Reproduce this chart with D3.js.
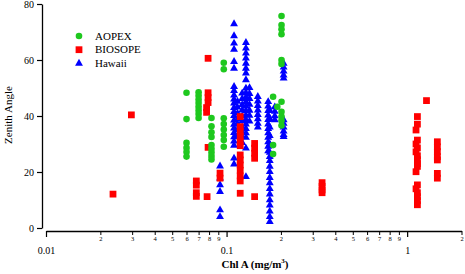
<!DOCTYPE html>
<html>
<head>
<meta charset="utf-8">
<script src="https://d3js.org/d3.v7.min.js"></script>
<style>
  body { margin: 0; background: #fff; }
  text { font-family: "Liberation Serif", "Times New Roman", serif; }
</style>
</head>
<body>
<script>
"use strict";

// each entry: [Chl A (mg/m3), zenith angles read at that Chl value]
var aopex = [
  [0.060, [48.3, 38.9, 30.4, 28.6, 27.1, 25.5]],
  [0.070, [48.5, 47.2, 45.9, 44.6, 43.3, 42.0, 40.7, 39.3]],
  [0.0825, [39.3, 36.3, 34.2, 32.5, 29.6, 28.3, 27.0, 25.7, 24.5]],
  [0.0965, [59.0, 56.7, 39.2, 37.1, 35.2, 33.2, 31.4, 29.0]],
  [0.181, [46.9, 29.6, 26.4]],
  [0.191, [43.3]],
  [0.2015, [75.7, 72.5, 71.0, 69.2, 60.0, 58.6, 45.1, 41.5, 39.8, 38.4, 36.6]]
];

var biosope = [
  [0.0235, [12.1]],
  [0.0297, [40.4]],
  [0.068, [16.8, 15.3, 12.6, 11.3]],
  [0.078, [11.2]],
  [0.079, [60.6, 48.3, 46.6, 44.8, 28.8]],
  [0.0775, [43.0, 41.3]],
  [0.092, [19.6, 17.8]],
  [0.119, [39.8, 36.2, 34.4, 32.6, 30.8, 29.4, 26.1, 24.3, 22.5, 20.6, 18.6, 16.8, 12.4]],
  [0.143, [30.2, 28.5, 26.7, 24.9, 11.2]],
  [0.338, [16.2, 14.9, 13.6, 12.6]],
  [1.28, [45.5]],
  [1.14, [39.8, 37.1, 31.4, 28.6, 25.8, 24.4, 23.0, 22.0, 15.4, 12.6, 11.2, 9.8, 8.3]],
  [1.12, [35.0, 30.0, 27.2, 20.1, 14.0]],
  [1.47, [30.8, 29.0, 27.3, 25.5, 24.3, 19.5, 17.8]]
];

var hawaii = [
  [0.092, [22.1, 17.8, 15.4, 13.0, 6.4, 4.0]],
  [0.110, [72.9, 68.6, 66.0, 63.8, 59.4, 57.0, 50.5, 49.0, 47.4, 46.0, 44.6, 43.0, 41.5, 40.1, 38.5, 37.0, 35.6, 34.0, 32.5, 31.0, 29.5, 24.9, 22.8]],
  [0.115, [45.2, 43.1, 41.0, 38.9, 37.2, 35.1, 33.0]],
  [0.122, [48.1, 46.2, 44.0, 42.1, 40.0, 38.2, 36.0, 34.1, 32.6, 30.5]],
  [0.128, [66.2, 64.2, 62.4, 60.6, 58.8, 57.0, 55.3, 52.9, 49.9, 48.3, 46.7, 45.1, 43.5, 41.9, 40.3, 38.7, 37.1, 35.5, 33.9, 32.3, 28.5, 18.3]],
  [0.134, [50.1, 48.0, 46.2, 44.1, 42.0, 40.2, 38.1]],
  [0.149, [46.9, 45.3, 43.7, 42.1, 40.5, 38.9, 37.3, 36.0]],
  [0.170, [45.1, 43.5, 41.9, 40.3, 38.7, 37.1, 35.5, 33.9, 32.3, 30.7, 29.1, 27.5]],
  [0.1735, [42.0, 39.0, 36.0, 33.0, 30.0, 27.0, 25.5, 24.0, 22.0, 20.1, 18.0, 16.1, 14.0, 12.1, 10.0, 8.1, 6.0, 4.0, 2.2]],
  [0.185, [43.2, 41.6, 40.0, 38.6]],
  [0.207, [58.8, 57.4, 56.0, 54.6, 53.5, 38.6, 37.3, 36.0, 34.6, 33.3, 32.6]]
];

var yTicks = [0, 20, 40, 60, 80];
var xMajor = [0.01, 0.1, 1];
var xMinor = [0.02, 0.03, 0.04, 0.05, 0.06, 0.07, 0.08, 0.09,
              0.2, 0.3, 0.4, 0.5, 0.6, 0.7, 0.8, 0.9, 2];

function flat(cols) {
  var out = [];
  cols.forEach(function (c) {
    c[1].forEach(function (a) { out.push({ chl: c[0], angle: a }); });
  });
  return out;
}

var svg = d3.select("body").append("svg")
    .attr("width", 465)
    .attr("height", 274);

var x = d3.scaleLog().domain([0.01, 2]).range([46, 461.5]);
var y = d3.scaleLinear().domain([0, 80]).range([228, 4]);

/* y axis */
var gy = svg.append("g")
    .attr("transform", "translate(42,0)")
    .call(d3.axisLeft(y).tickValues(yTicks).tickSize(5).tickSizeOuter(0).tickPadding(3));
gy.attr("font-family", "Liberation Serif").attr("font-size", 10);
gy.select(".domain").attr("stroke-width", 1.3);
gy.selectAll(".tick line").attr("stroke-width", 1.2);

/* x axis: minor ticks with small digits, majors labelled below */
var gxMinor = svg.append("g")
    .attr("transform", "translate(0,231)")
    .call(d3.axisBottom(x).tickValues(xMinor).tickSize(4).tickSizeOuter(0).tickPadding(1)
      .tickFormat(function (d) {
        return String(Math.round(d / Math.pow(10, Math.floor(Math.log10(d) + 1e-9))));
      }));
gxMinor.attr("font-family", "Liberation Serif").attr("font-size", 6.5);
gxMinor.select(".domain").attr("stroke-width", 1.3);

var gxMajor = svg.append("g")
    .attr("transform", "translate(0,231)")
    .call(d3.axisBottom(x).tickValues(xMajor).tickSize(6).tickSizeOuter(0).tickPadding(10)
      .tickFormat(function (d) { return d === 1 ? "1" : String(d); }));
gxMajor.attr("font-family", "Liberation Serif").attr("font-size", 10);
gxMajor.select(".domain").remove();
gxMajor.selectAll(".tick line").attr("stroke-width", 1.2);

/* axis titles */
svg.append("text")
    .attr("transform", "translate(12,115) rotate(-90)")
    .attr("text-anchor", "middle")
    .attr("font-size", 11)
    .text("Zenith Angle");

var xt = svg.append("text")
    .attr("x", 255)
    .attr("y", 268)
    .attr("text-anchor", "middle")
    .attr("font-size", 11)
    .attr("font-weight", "bold")
    .text("Chl A (mg/m");
xt.append("tspan").attr("dy", -5).attr("font-size", 7).text("3");
xt.append("tspan").attr("dy", 5).text(")");

/* points: Hawaii underneath, then BIOSOPE, then AOPEX */
var tri = d3.symbol(d3.symbolTriangle, 27);
var sq = d3.symbol(d3.symbolSquare, 46);

svg.append("g").selectAll("path")
  .data(flat(hawaii))
  .join("path")
    .attr("d", tri)
    .attr("transform", function (d) { return "translate(" + x(d.chl) + "," + y(d.angle) + ")"; })
    .attr("fill", "#0000ff");

svg.append("g").selectAll("path")
  .data(flat(biosope))
  .join("path")
    .attr("d", sq)
    .attr("transform", function (d) { return "translate(" + x(d.chl) + "," + y(d.angle) + ")"; })
    .attr("fill", "#ff0000");

svg.append("g").selectAll("circle")
  .data(flat(aopex))
  .join("circle")
    .attr("cx", function (d) { return x(d.chl); })
    .attr("cy", function (d) { return y(d.angle); })
    .attr("r", 3.3)
    .attr("fill", "#1ec81e");

/* legend */
var legend = [
  { name: "AOPEX", color: "#1ec81e", shape: "circle" },
  { name: "BIOSOPE", color: "#ff0000", shape: "square" },
  { name: "Hawaii", color: "#0000ff", shape: "tri" }
];
var lg = svg.append("g").selectAll("g")
  .data(legend)
  .join("g")
    .attr("transform", function (d, i) { return "translate(79," + (36 + i * 13.7) + ")"; });
lg.each(function (d) {
  var g = d3.select(this);
  if (d.shape === "circle") g.append("circle").attr("r", 3.3).attr("fill", d.color);
  else g.append("path").attr("d", d.shape === "square" ? sq : tri).attr("fill", d.color);
});
lg.append("text")
    .attr("x", 16)
    .attr("y", 3.7)
    .attr("font-size", 11)
    .text(function (d) { return d.name; });
</script>
</body>
</html>
